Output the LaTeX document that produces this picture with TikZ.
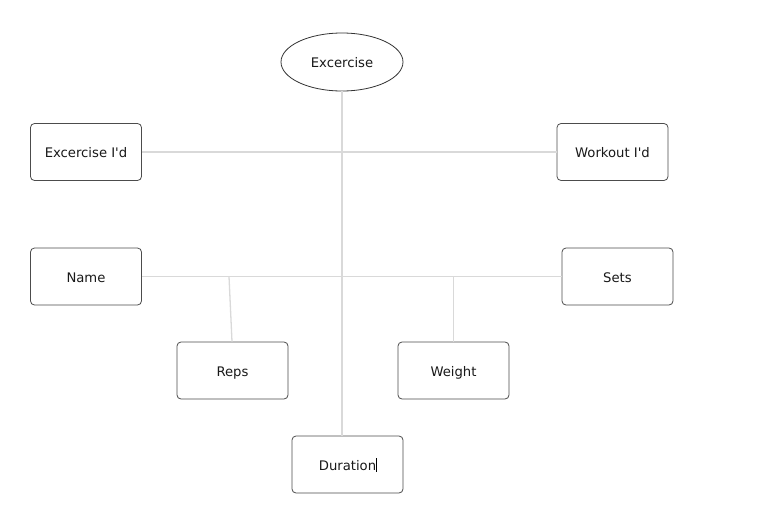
\documentclass[tikz,border=0pt]{standalone}
\usepackage{fontspec}
\newfontfamily\dv{DejaVu Sans}
\usetikzlibrary{shapes.geometric}
\begin{document}
\begin{tikzpicture}[x=1pt,y=-1pt,
  txt/.style={font=\dv\fontsize{13.2}{15}\selectfont,text=black!90,text height=11pt,text depth=0pt},
  box/.style={txt,draw=black!70,line width=0.8pt,rounded corners=4pt,minimum width=111pt,minimum height=57pt,inner sep=0pt,fill=white},
  oval/.style={txt,ellipse,draw=black!80,line width=0.8pt,minimum width=122pt,minimum height=58pt,inner sep=0pt,fill=white},
  link/.style={draw=black!15,line width=1.3pt}]
\useasboundingbox (0,0) rectangle (764,530);
% junction coordinates
\coordinate (jr) at (229,276.5);
\coordinate (jw) at (453.5,276.5);
% nodes
\node[oval] (ex) at (342,62) {Excercise};
\node[box] (ei) at (86,152) {Excercise I'd};
\node[box] (wi) at (612.5,152) {Workout I'd};
\node[box] (name) at (86,276.5) {Name};
\node[box] (sets) at (617.5,276.5) {Sets};
\node[box] (reps) at (232.5,370.5) {Reps};
\node[box] (wt) at (453.5,370.5) {Weight};
\node[box] (dur) at (347.5,464.5) {Duration};
% connectors
\path[link] (ex.south) -- (ex.south |- dur.north);
\path[link] (ei.east) -- (wi.west);
\path[link] (name.east) -- (name.east -| sets.west);
\path[link] (jr) -- ([xshift=-0.5pt]reps.north);
\path[link] (jw) -- (wt.north);
% cursor after Duration
\draw[black,line width=0.7pt] ([xshift=28.5pt,yshift=6.5pt]dur.center) -- ([xshift=28.5pt,yshift=-7.5pt]dur.center);
\end{tikzpicture}
\end{document}
